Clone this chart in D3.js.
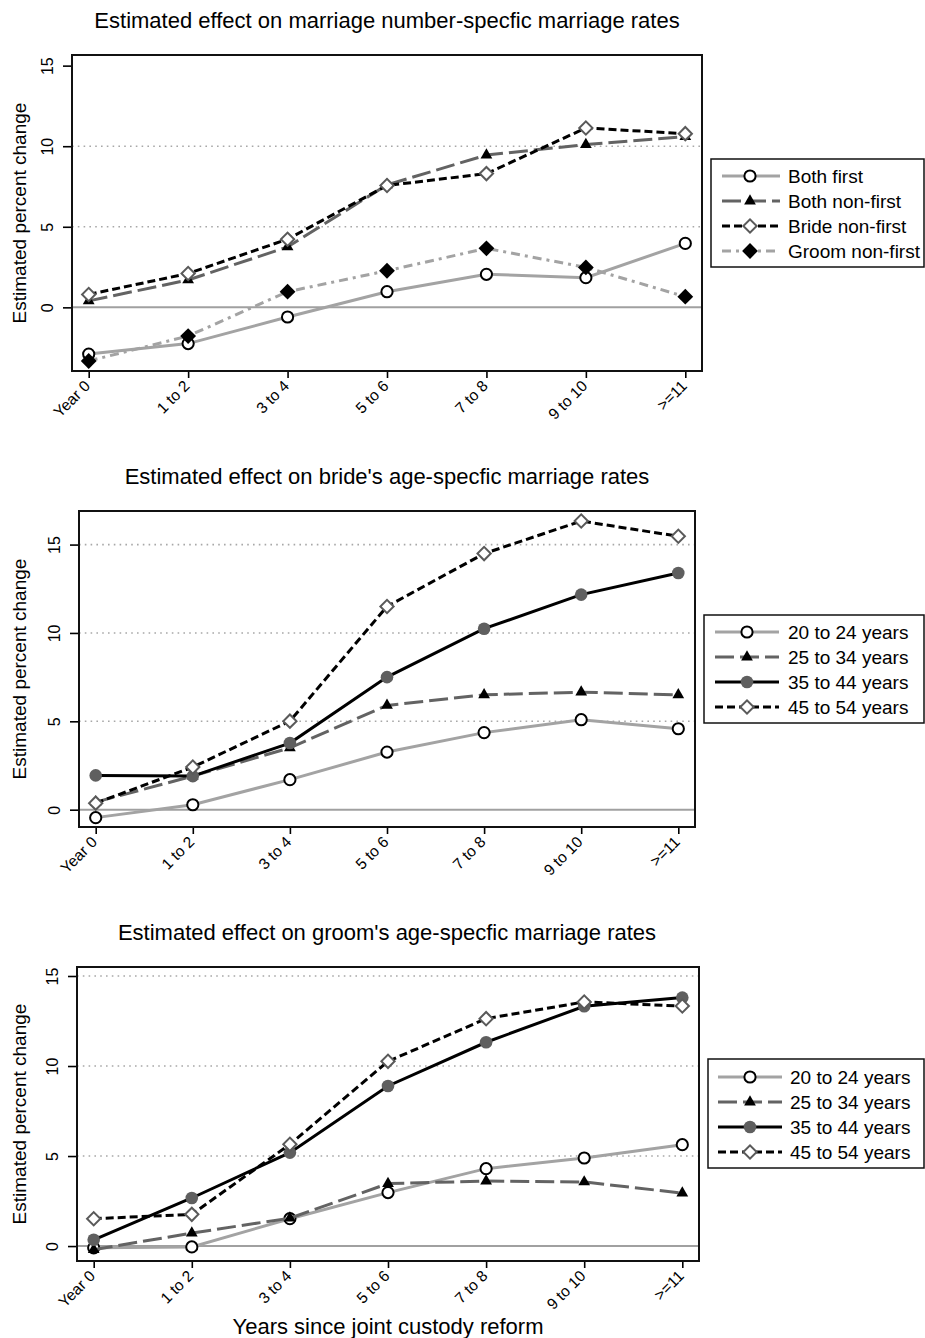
<!DOCTYPE html>
<html>
<head>
<meta charset="utf-8">
<script src="https://cdn.jsdelivr.net/npm/d3@7"></script>
<style>
  html, body { margin: 0; padding: 0; background: #fff; }
  svg { display: block; font-family: Arial, "Liberation Sans", sans-serif; }
  .ytick { font-size: 16px; }
  .xtick { font-size: 15.5px; }
</style>
</head>
<body>
<svg id="chart" width="925" height="1338"></svg>
<script>
// ---------------- DATA ----------------
const categories = ["Year 0", "1 to 2", "3 to 4", "5 to 6", "7 to 8", "9 to 10", ">=11"];
const yTicks = [0, 5, 10, 15];

// Panel 1: marriage number-specific
const p1Names = ["Both first", "Both non-first", "Bride non-first", "Groom non-first"];
const bothFirst     = [-2.9, -2.25, -0.6, 0.97, 2.05, 1.84, 3.97];
const bothNonFirst  = [0.4, 1.7, 3.75, 7.6, 9.45, 10.1, 10.6];
const brideNonFirst = [0.8, 2.1, 4.23, 7.56, 8.3, 11.13, 10.78];
const groomNonFirst = [-3.33, -1.78, 0.97, 2.27, 3.66, 2.48, 0.66];

// Panel 2: bride's age-specific
const ageNames = ["20 to 24 years", "25 to 34 years", "35 to 44 years", "45 to 54 years"];
const bride20 = [-0.45, 0.28, 1.7, 3.26, 4.36, 5.09, 4.58];
const bride25 = [0.43, 1.9, 3.5, 5.9, 6.5, 6.65, 6.5];
const bride35 = [1.94, 1.9, 3.77, 7.5, 10.24, 12.17, 13.39];
const bride45 = [0.37, 2.41, 5.01, 11.5, 14.49, 16.33, 15.47];

// Panel 3: groom's age-specific
const groom20 = [-0.1, -0.05, 1.52, 2.97, 4.3, 4.89, 5.63];
const groom25 = [-0.2, 0.72, 1.55, 3.47, 3.61, 3.56, 2.94];
const groom35 = [0.35, 2.67, 5.19, 8.89, 11.32, 13.32, 13.8];
const groom45 = [1.52, 1.76, 5.65, 10.26, 12.63, 13.56, 13.33];

const titles = [
  "Estimated effect on marriage number-specfic marriage rates",
  "Estimated effect on bride's age-specfic marriage rates",
  "Estimated effect on groom's age-specfic marriage rates"
];
const yTitle = "Estimated percent change";
const xTitle = "Years since joint custody reform";

// ---------------- STYLES ----------------
const LIGHT = "#a3a3a3", DARK = "#636363", BLACK = "#000";
const styleP1 = [
  {stroke: LIGHT, dash: null, marker: "circleOpen"},
  {stroke: DARK, dash: "19,6", marker: "triangle"},
  {stroke: BLACK, dash: "8,4", marker: "diamondOpen"},
  {stroke: LIGHT, dash: "9,5,3,5", marker: "diamondFilled"}
];
const styleAge = [
  {stroke: LIGHT, dash: null, marker: "circleOpen"},
  {stroke: DARK, dash: "19,6", marker: "triangle"},
  {stroke: BLACK, dash: null, marker: "circleFilled"},
  {stroke: BLACK, dash: "8,4", marker: "diamondOpen"}
];

const panels = [
  {title: titles[0], names: p1Names, series: [bothFirst, bothNonFirst, brideNonFirst, groomNonFirst], styles: styleP1,
   box: {x0: 72, x1: 702, y0: 55, y1: 371}, ydom: [-3.95, 15.66], grid: [5, 10], titleY: 28,
   legend: {x: 711, y0: 159, y1: 267, row0: 176, lx0: 722, lx1: 780, mx: 750, tx: 788}},
  {title: titles[1], names: ageNames, series: [bride20, bride25, bride35, bride45], styles: styleAge,
   box: {x0: 79, x1: 695, y0: 511, y1: 827}, ydom: [-0.98, 16.9], grid: [5, 10, 15], titleY: 484,
   legend: {x: 704, y0: 615, y1: 723, row0: 632, lx0: 715, lx1: 779, mx: 747, tx: 788}},
  {title: titles[2], names: ageNames, series: [groom20, groom25, groom35, groom45], styles: styleAge,
   box: {x0: 77, x1: 699, y0: 967, y1: 1261}, ydom: [-0.83, 15.5], grid: [5, 10, 15], titleY: 940,
   legend: {x: 708, y0: 1059, y1: 1168, row0: 1077, lx0: 718, lx1: 782, mx: 750, tx: 790}}
];

const svg = d3.select("#chart");

function drawMarker(g, type, x, y) {
  if (type === "circleOpen") {
    g.append("circle").attr("cx", x).attr("cy", y).attr("r", 5.6)
      .attr("fill", "#fff").attr("stroke", "#000").attr("stroke-width", 2);
  } else if (type === "circleFilled") {
    g.append("circle").attr("cx", x).attr("cy", y).attr("r", 6.3)
      .attr("fill", "#5f5f5f").attr("stroke", "none");
  } else if (type === "triangle") {
    g.append("path").attr("d", d3.symbol().type(d3.symbolTriangle).size(60)())
      .attr("transform", `translate(${x},${y})`).attr("fill", "#000");
  } else if (type === "diamondOpen") {
    g.append("path").attr("d", d3.symbol().type(d3.symbolSquare).size(88)())
      .attr("transform", `translate(${x},${y}) rotate(45)`)
      .attr("fill", "#fff").attr("stroke", "#5a5a5a").attr("stroke-width", 2);
  } else if (type === "diamondFilled") {
    g.append("path").attr("d", d3.symbol().type(d3.symbolSquare).size(125)())
      .attr("transform", `translate(${x},${y}) rotate(45)`).attr("fill", "#000");
  }
}

panels.forEach((p, pi) => {
  const g = svg.append("g");
  const b = p.box;
  const pad = 16.7;
  const x = d3.scalePoint().domain(categories).range([b.x0 + pad, b.x1 - pad]);
  const y = d3.scaleLinear().domain(p.ydom).range([b.y1, b.y0]);

  // title
  g.append("text").attr("x", 387).attr("y", p.titleY).attr("text-anchor", "middle")
    .style("font-size", "22px").attr("fill", "#000").text(p.title);

  // grid lines (dotted)
  g.selectAll(".grid").data(p.grid).enter().append("line")
    .attr("x1", b.x0).attr("x2", b.x1).attr("y1", d => y(d)).attr("y2", d => y(d))
    .attr("stroke", "#a8a8a8").attr("stroke-width", 1.6).attr("stroke-dasharray", "1.6,4.2");
  // zero line
  g.append("line").attr("x1", b.x0).attr("x2", b.x1).attr("y1", y(0)).attr("y2", y(0))
    .attr("stroke", "#a0a0a0").attr("stroke-width", 2);

  // Y axis (ticks + labels)
  const yAxis = d3.axisLeft(y).tickValues(yTicks).tickSize(9).tickPadding(0).tickFormat(d3.format("d"));
  const ya = g.append("g").attr("transform", `translate(${b.x0},0)`).call(yAxis);
  ya.attr("font-size", null).attr("font-family", null);
  ya.select(".domain").remove();
  ya.selectAll(".tick line").attr("stroke", "#000").attr("stroke-width", 1.6);
  ya.selectAll(".tick text").attr("class", "ytick").attr("fill", "#000")
    .attr("text-anchor", "middle").attr("dy", null).attr("x", null)
    .attr("transform", "translate(-19,0) rotate(-90)");

  // X axis (ticks + labels)
  const xAxis = d3.axisBottom(x).tickSize(7).tickPadding(0);
  const xa = g.append("g").attr("transform", `translate(0,${b.y1})`).call(xAxis);
  xa.attr("font-size", null).attr("font-family", null);
  xa.select(".domain").remove();
  xa.selectAll(".tick line").attr("stroke", "#000").attr("stroke-width", 1.6);
  xa.selectAll(".tick text").attr("class", "xtick").attr("fill", "#000")
    .attr("text-anchor", "end").attr("y", null).attr("dy", null)
    .attr("transform", "translate(2,16) rotate(-45)");

  // Y title
  g.append("text").attr("transform", `translate(26,${(b.y0 + b.y1) / 2}) rotate(-90)`)
    .attr("text-anchor", "middle").style("font-size", "19px").attr("fill", "#000").text(yTitle);

  // series
  const line = d3.line().x((d, i) => x(categories[i])).y(d => y(d));
  p.series.forEach((s, si) => {
    const st = p.styles[si];
    const sg = g.append("g");
    sg.append("path").attr("d", line(s)).attr("fill", "none")
      .attr("stroke", st.stroke).attr("stroke-width", 3)
      .attr("stroke-dasharray", st.dash);
    s.forEach((v, i) => drawMarker(sg, st.marker, x(categories[i]), y(v)));
  });

  // box
  g.append("rect").attr("x", b.x0).attr("y", b.y0).attr("width", b.x1 - b.x0).attr("height", b.y1 - b.y0)
    .attr("fill", "none").attr("stroke", "#111").attr("stroke-width", 2);

  // legend
  const L = p.legend;
  const lg = g.append("g");
  lg.append("rect").attr("x", L.x).attr("y", L.y0).attr("width", 924 - L.x).attr("height", L.y1 - L.y0)
    .attr("fill", "#fff").attr("stroke", "#111").attr("stroke-width", 1.5);
  p.names.forEach((n, i) => {
    const st = p.styles[i];
    const ry = L.row0 + i * 25;
    lg.append("line").attr("x1", L.lx0).attr("x2", L.lx1).attr("y1", ry).attr("y2", ry)
      .attr("stroke", st.stroke).attr("stroke-width", 3).attr("stroke-dasharray", st.dash);
    drawMarker(lg, st.marker, L.mx, ry);
    lg.append("text").attr("x", L.tx).attr("y", ry + 7).style("font-size", "19px").attr("fill", "#000").text(n);
  });
});

// x-axis title
svg.append("text").attr("x", 388).attr("y", 1334).attr("text-anchor", "middle")
  .style("font-size", "22px").attr("fill", "#000").text(xTitle);
</script>
</body>
</html>
